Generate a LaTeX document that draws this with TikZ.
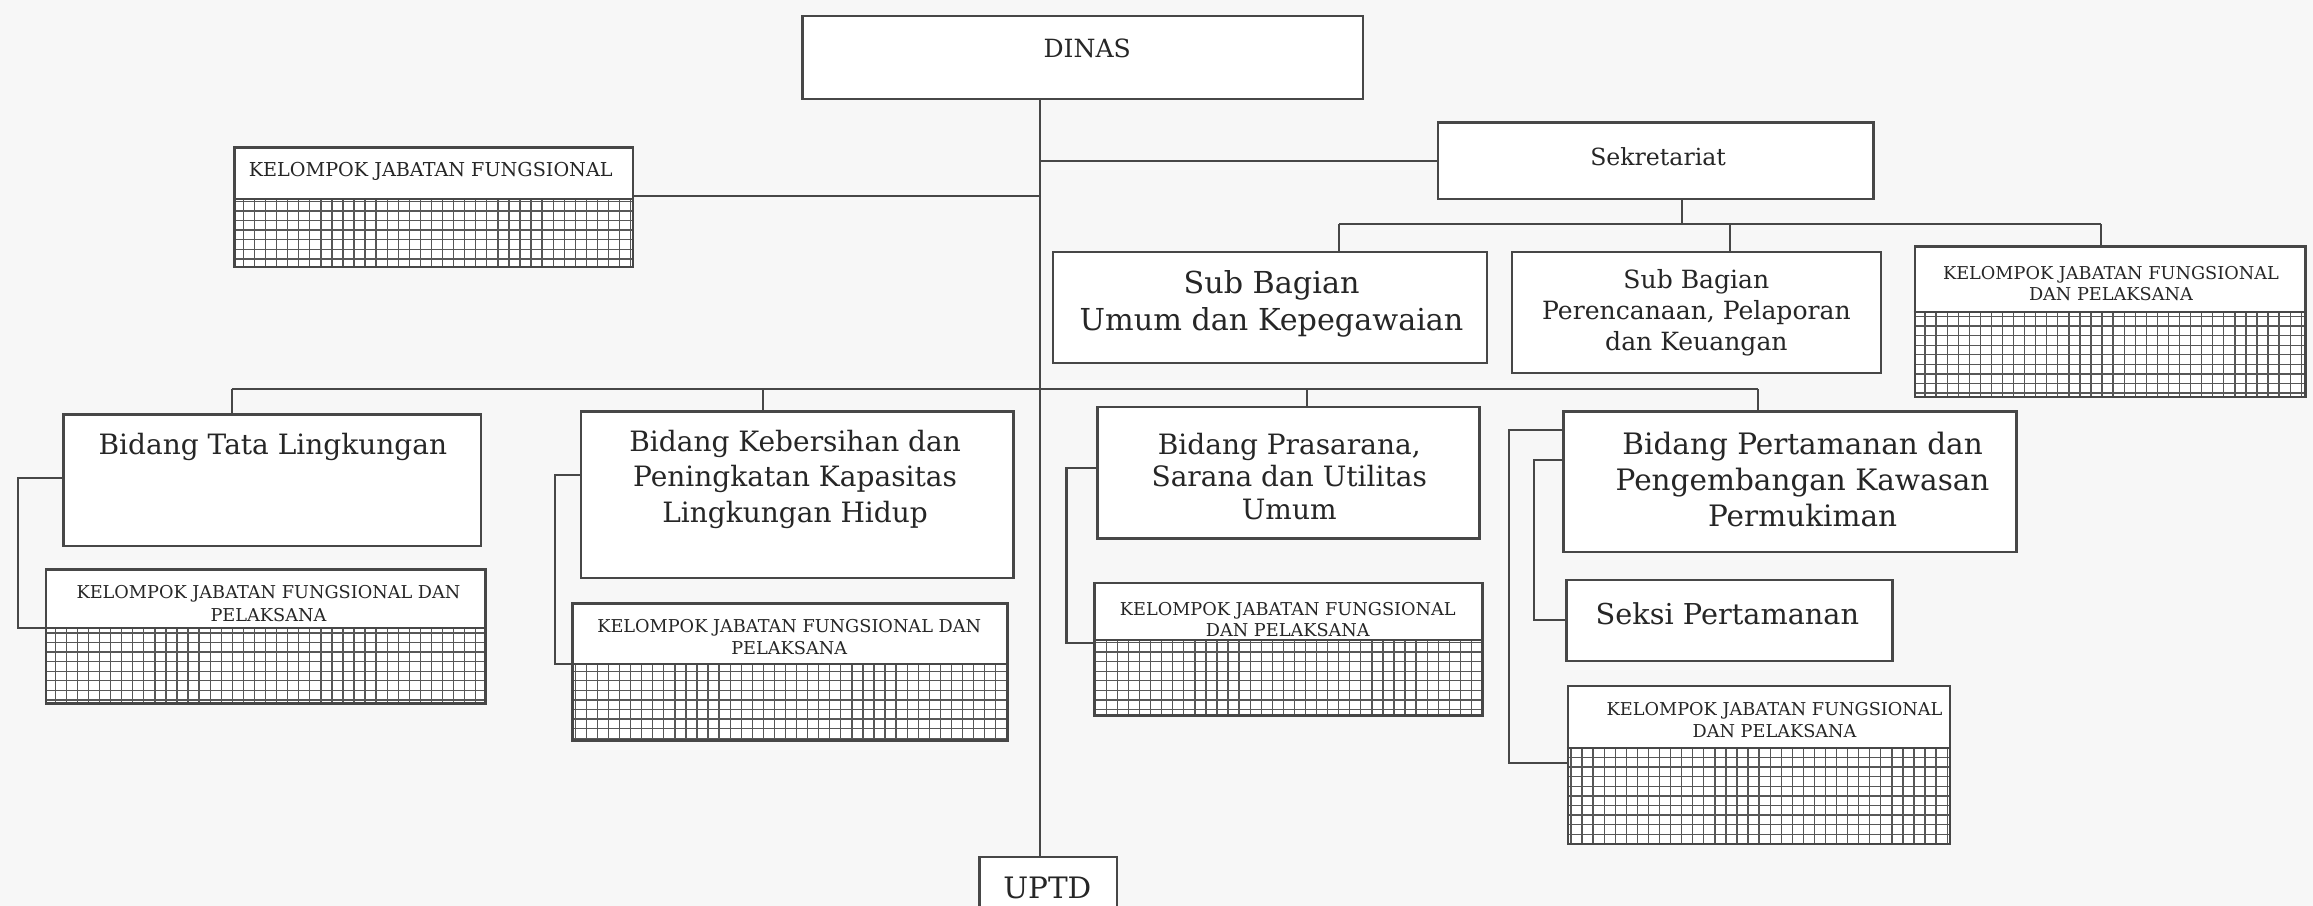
\documentclass[tikz,border=0pt]{standalone}
\usepackage{fontspec}
\setmainfont{DejaVu Serif}
\usetikzlibrary{fit}
\definecolor{paper}{HTML}{F7F7F7}
\definecolor{ink}{HTML}{474747}
\definecolor{hatchink}{HTML}{575757}
% functional-group box: name, x1, y1, x2, divider y, y2
\newcommand\kjfunit[6]{%
  \node[unit, fit={(#2,#3) (#4,#6)}] (#1) {};
  \draw[hatch] (#2,#6) grid (#4,#5);
  \draw[link] (#1.west |- 0,#5) -- (#1.east |- 0,#5);
  \draw[unit, fill=none] (#2,#3) rectangle (#4,#6);
}
\begin{document}
\begin{tikzpicture}[x=1pt,y=-1pt,
  unit/.style={draw=ink, line width=1.6pt, fill=white, inner sep=0pt},
  hatch/.style={draw=hatchink, line width=0.9pt, xstep=7.5pt, ystep=6.5pt},
  link/.style={draw=ink, line width=1.4pt},
  lbl/.style={inner sep=0pt, align=center, text=black!85},
]
\fill[paper] (0,0) rectangle (1568,614);
\useasboundingbox (0,0) rectangle (1568,614);

% ---- connectors
\draw[link] (705,67) -- (705,581);
\draw[link] (705,109) -- (975,109);
\draw[link] (705,133) -- (429,133);
\draw[link] (1140,135) -- (1140,152);
\draw[link] (908,152) -- (1424,152);
\draw[link] (908,152) -- (908,171);
\draw[link] (1173,152) -- (1173,171);
\draw[link] (1424,152) -- (1424,167);
\draw[link] (157,264) -- (1192,264);
\draw[link] (157,264) -- (157,281);
\draw[link] (517,264) -- (517,279);
\draw[link] (886,264) -- (886,276);
\draw[link] (1192,264) -- (1192,279);
\draw[link] (43,324) -- (12.5,324) -- (12.5,426) -- (31,426);
\draw[link] (394,322) -- (376,322) -- (376,450) -- (388,450);
\draw[link] (744,317) -- (723,317) -- (723,436) -- (742,436);
\draw[link] (1060,312) -- (1040,312) -- (1040,420) -- (1062,420);
\draw[link] (1060,291.5) -- (1023,291.5) -- (1023,517) -- (1063,517);

% ---- top level
\node[unit, fit={(544,11) (924,67)}] (dinas) {};
\node[lbl, font=\fontsize{17}{20}\selectfont] (tdinas) at (737,33) {DINAS};

\node[unit, fit={(975,83) (1270,135)}] (sek) {};
\node[lbl, font=\fontsize{16}{19}\selectfont] (tsek) at (1124,106) {Sekretariat};

\kjfunit{kjf0}{159}{100}{429}{135}{181}
\node[lbl, font=\fontsize{13}{15}\selectfont] (tkjf0) at (292,116) {KELOMPOK JABATAN FUNGSIONAL};

% ---- secretariat units
\node[unit, fit={(714,171) (1008,246)}] (sbu) {};
\node[lbl, font=\fontsize{20.5}{25}\selectfont] (tsbu) at (862,206) {Sub Bagian\\Umum dan Kepegawaian};

\node[unit, fit={(1025,171) (1275,253)}] (sbp) {};
\node[lbl, font=\fontsize{17}{21}\selectfont] (tsbp) at (1150,212) {Sub Bagian\\Perencanaan, Pelaporan\\dan Keuangan};

\kjfunit{kjft}{1298}{167}{1563}{211.5}{269}
\node[lbl, font=\fontsize{12}{14}\selectfont] (tkjft) at (1431,192) {KELOMPOK JABATAN FUNGSIONAL\\DAN PELAKSANA};

% ---- divisions
\node[unit, fit={(43,281) (326,370)}] (bt) {};
\node[lbl, font=\fontsize{19}{24}\selectfont] (tbt) at (185,303) {Bidang Tata Lingkungan};
\kjfunit{kjf1}{31}{386}{329}{426}{477}
\node[lbl, font=\fontsize{12}{15.5}\selectfont] (tkjf1) at (182,409) {KELOMPOK JABATAN FUNGSIONAL DAN\\PELAKSANA};

\node[unit, fit={(394,279) (687,392)}] (bk) {};
\node[lbl, font=\fontsize{19}{24}\selectfont] (tbk) at (539,325) {Bidang Kebersihan dan\\Peningkatan Kapasitas\\Lingkungan Hidup};
\kjfunit{kjf2}{388}{409}{683}{450}{502}
\node[lbl, font=\fontsize{12}{15}\selectfont] (tkjf2) at (535,432) {KELOMPOK JABATAN FUNGSIONAL DAN\\PELAKSANA};

\node[unit, fit={(744,276) (1003,365)}] (bp) {};
\node[lbl, font=\fontsize{19}{22}\selectfont] (tbp) at (874,323) {Bidang Prasarana,\\Sarana dan Utilitas\\Umum};
\kjfunit{kjf3}{742}{395}{1005}{434}{485}
\node[lbl, font=\fontsize{12}{14}\selectfont] (tkjf3) at (873,420) {KELOMPOK JABATAN FUNGSIONAL\\DAN PELAKSANA};

\node[unit, fit={(1060,279) (1367,374)}] (bpm) {};
\node[lbl, font=\fontsize{20}{24.5}\selectfont] (tbpm) at (1222,325) {Bidang Pertamanan dan\\Pengembangan Kawasan\\Permukiman};
\node[unit, fit={(1062,393) (1283,448)}] (seksi) {};
\node[lbl, font=\fontsize{19.5}{23}\selectfont] (tseksi) at (1171,416) {Seksi Pertamanan};
\kjfunit{kjf4}{1063}{465}{1322}{507}{572}
\node[lbl, font=\fontsize{12}{15}\selectfont] (tkjf4) at (1203,488) {KELOMPOK JABATAN FUNGSIONAL\\DAN PELAKSANA};

% ---- technical unit
\node[unit, fit={(664,581) (757,640)}] (uptd) {};
\node[lbl, font=\fontsize{20}{24}\selectfont] (tuptd) at (710,602) {UPTD};
\end{tikzpicture}
\end{document}
